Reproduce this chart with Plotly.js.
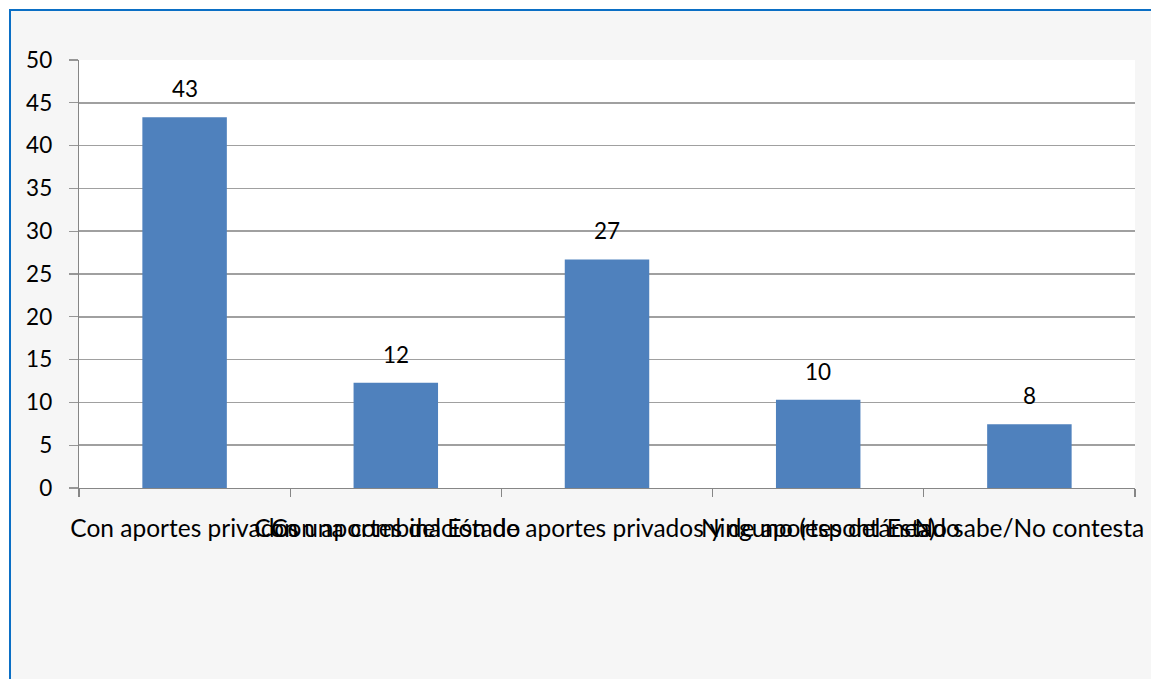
<!DOCTYPE html>
<html>
<head>
<meta charset="utf-8">
<script src="https://cdn.plot.ly/plotly-3.0.1.min.js"></script>
<style>
  html, body { margin: 0; padding: 0; background: #ffffff; overflow: hidden; }
  #wrap { position: absolute; left: 9px; top: 9px; width: 1142px; height: 670px;
          background: #F6F6F6; border-top: 2.5px solid #0B6FC5; border-left: 2.5px solid #0B6FC5; }
  #chart { width: 1140px; height: 668px; }
</style>
</head>
<body>
<div id="wrap"><div id="chart"></div></div>
<script>
const categories = [
  "Con aportes privados",
  "Con aportes del Estado",
  "Con una combinación de aportes privados y de aportes del Estado",
  "Ninguno (espontánea)",
  "No sabe/No contesta"
];
const values = [43.3, 12.3, 26.7, 10.3, 7.45];
const valueLabels = ["43", "12", "27", "10", "8"];
const yTicks = [0, 5, 10, 15, 20, 25, 30, 35, 40, 45, 50];

const FONT = "Lato, 'Open Sans', sans-serif";

const trace = {
  type: "bar",
  x: categories,
  y: values,
  marker: { color: "#4F81BD" },
  hoverinfo: "x+y"
};

const annotations = categories.map((c, i) => ({
  x: c, y: values[i], text: valueLabels[i],
  showarrow: false, yanchor: "bottom", xanchor: "center", yshift: 13,
  font: { family: FONT, size: 22.5, color: "#000000" }
}));

const layout = {
  width: 1140, height: 668,
  margin: { l: 68, r: 16, t: 49, b: 191 },
  paper_bgcolor: "#F6F6F6",
  plot_bgcolor: "#FFFFFF",
  bargap: 0.6,
  showlegend: false,
  font: { family: FONT, size: 22, color: "#000000" },
  xaxis: {
    type: "category",
    tickangle: 0,
    tickson: "boundaries",
    ticks: "outside", ticklen: 8, tickcolor: "#868686", tickwidth: 1.3,
    showline: true, linecolor: "#868686", linewidth: 1.3,
    showgrid: false,
    ticklabelstandoff: 18,
    tickfont: { family: FONT, size: 24.5, color: "#000000" }
  },
  yaxis: {
    range: [0, 50],
    tickmode: "array", tickvals: yTicks, ticktext: yTicks.map(String),
    ticks: "outside", ticklen: 9, tickcolor: "#969696", tickwidth: 1.3,
    showline: true, linecolor: "#868686", linewidth: 1.3,
    showgrid: true, gridcolor: "#A0A0A0", gridwidth: 1.6,
    zeroline: false,
    ticklabelstandoff: 12,
    tickfont: { family: FONT, size: 22.5, color: "#000000" }
  },
  annotations: annotations
};

Plotly.newPlot("chart", [trace], layout, { displayModeBar: false, staticPlot: true });
</script>
</body>
</html>
